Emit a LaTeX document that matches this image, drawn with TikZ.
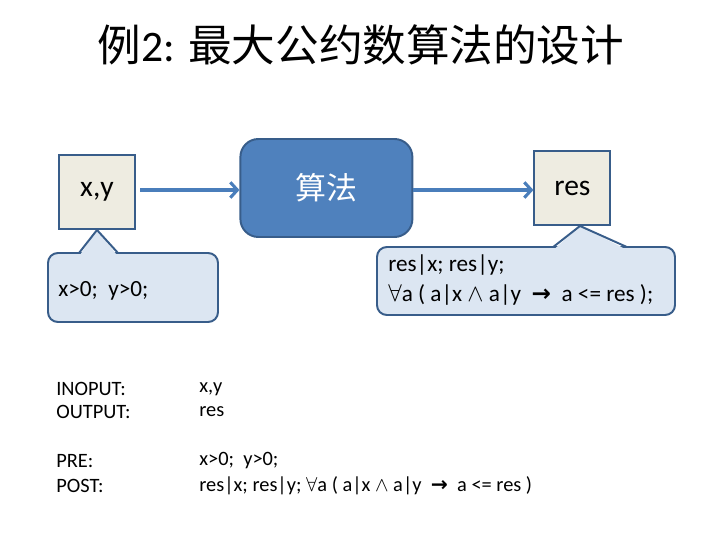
\documentclass[tikz,border=0pt]{standalone}
\usepackage{fontspec}
\setmainfont{Carlito}
\newfontfamily\cjk{Noto Sans CJK SC}
\newfontfamily\symf{DejaVu Sans}
\usetikzlibrary{arrows.meta,positioning}
\definecolor{edgeblue}{RGB}{56,93,138}
\definecolor{algblue}{RGB}{79,129,189}
\definecolor{arrowblue}{RGB}{74,126,187}
\definecolor{paper}{RGB}{238,236,225}
\definecolor{notefill}{RGB}{220,230,242}
\newcommand{\implto}{{\symf\bfseries →}}

\begin{document}
\begin{tikzpicture}
\useasboundingbox (0,0) rectangle (18,13.5);
%styles
\tikzstyle{databox}=[draw=edgeblue,line width=1.4pt,fill=paper,minimum width=1.9cm,minimum height=1.85cm,inner sep=0pt,font=\fontsize{21}{24}\selectfont]
\tikzstyle{algbox}=[draw=edgeblue,line width=1.4pt,fill=algblue,rounded corners=0.45cm,minimum width=4.3cm,minimum height=2.45cm,text=white,font=\cjk\fontsize{22}{26}\selectfont]
\tikzstyle{note}=[draw=edgeblue,line width=1.4pt,fill=notefill,rounded corners=7pt]
\tikzstyle{notetext}=[anchor=west,inner sep=0pt,font=\fontsize{16.5}{18.5}\selectfont]
\tikzstyle{spec}=[anchor=west,inner sep=0pt,font=\fontsize{14.5}{17}\selectfont]
\tikzstyle{flow}=[->,>={Straight Barb[length=5pt,width=11pt]},line width=2.2pt,draw=arrowblue]

%title
\node (title) at (9.025,12.375) {\fontsize{31}{36}\selectfont{\cjk 例}2: {\cjk 最大公约数算法的设计}};

%boxes
\node[databox] (xy) at (2.425,8.7) {x,y};
\node[algbox] (alg) at (8.16,8.8) {算法};
\node[databox] (res) at (14.31,8.8) {res};

%arrows
\draw[flow,shorten <=3pt] (xy.east |- 0,8.75) -- (alg.west |- 0,8.75);
\draw[flow] (alg.east |- 0,8.75) -- (res.west |- 0,8.75);

%callout pre
\draw[note] (1.2,5.45) rectangle (5.45,7.175);
\fill[notefill] (2.01,7.14) -- (xy.south) -- (2.91,7.14) -- cycle;
\draw[edgeblue,line width=1.4pt,line join=round] (1.975,7.175) -- (xy.south) -- (2.95,7.175);
\node[notetext] (pre) at (1.45,6.225) {x>0;\ \ y>0;};

%callout post
\draw[note] (9.425,5.625) rectangle (16.875,7.325);
\fill[notefill] (13.88,7.29) -- ([xshift=0.19cm]res.south) -- (15.6,7.29) -- cycle;
\draw[edgeblue,line width=1.4pt,line join=round] (13.83,7.325) -- ([xshift=0.19cm]res.south) -- (15.67,7.325);
\node[notetext] (post1) at (9.7,6.87) {res|x; res|y;};
\node[notetext] (post2) at (9.7,6.13) {$\forall$a ( a|x $\wedge$ a|y\ \ \implto\ \ a <= res );};

%spec
\node[spec] (inlab) at (1.4,3.775) {INOPUT:};
\node[spec] (outlab) at (1.4,3.2) {OUTPUT:};
\node[spec] (prelab) at (1.4,1.975) {PRE:};
\node[spec] (postlab) at (1.4,1.35) {POST:};
\node[spec] (inval) at (4.975,3.775) {x,y};
\node[spec] (outval) at (4.975,3.2) {res};
\node[spec] (preval) at (4.975,1.975) {x>0;\ \ y>0;};
\node[spec] (postval) at (4.975,1.35) {res|x; res|y; $\forall$a ( a|x $\wedge$\ a|y\ \ \implto\ \ a <= res )};
\end{tikzpicture}
\end{document}
